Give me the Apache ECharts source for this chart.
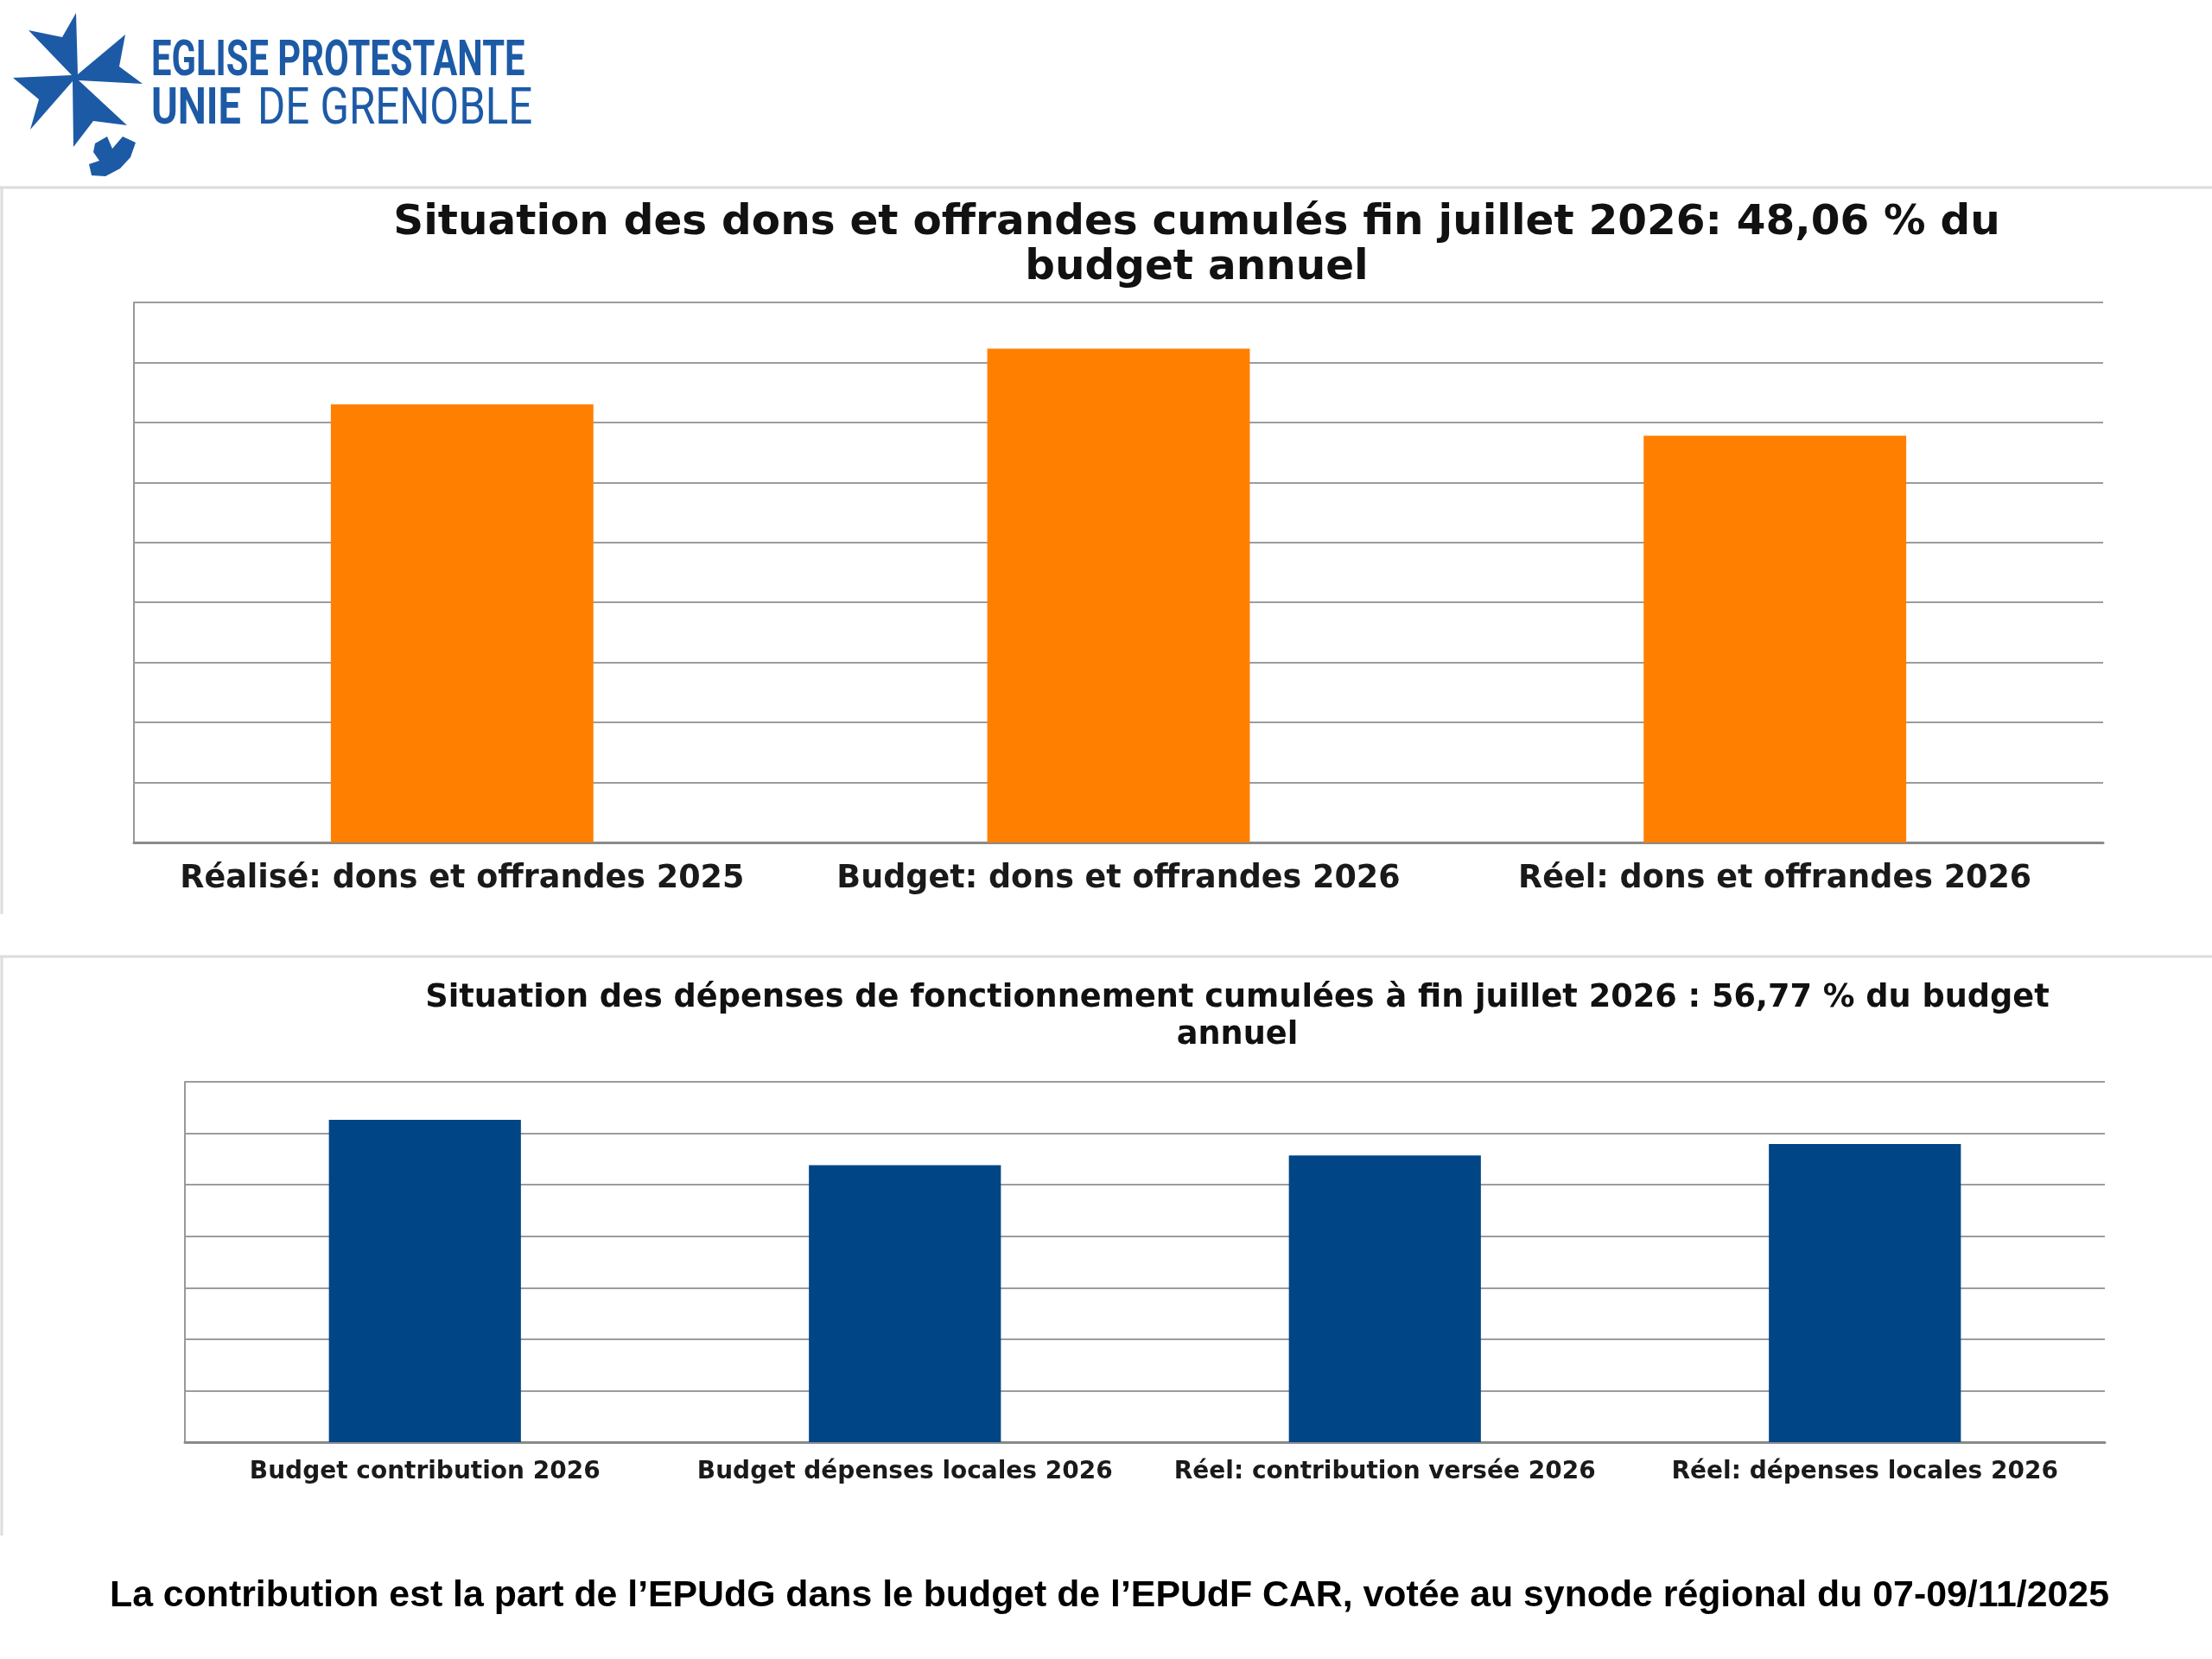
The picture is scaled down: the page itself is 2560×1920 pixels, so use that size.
<!DOCTYPE html>
<html>
<head>
<meta charset="utf-8">
<title>EPUdG - dons et dépenses fin juillet 2026</title>
<script src="https://cdn.jsdelivr.net/npm/echarts@6/dist/echarts.min.js"></script>
<style>
	html, body { margin: 0; padding: 0; background: #fff; }
	#main { width: 2560px; height: 1920px; }
</style>
</head>
<body>
<div id="main"></div>
<script>
// dons et offrandes (échelle relative, l'axe n'a pas de graduations lisibles)
var donsCategories = ['Réalisé: dons et offrandes 2025', 'Budget: dons et offrandes 2026', 'Réel: dons et offrandes 2026'];
var donsValues = [7.30, 8.23, 6.78];
var donsAxisMax = 9;

// dépenses de fonctionnement
var depCategories = ['Budget contribution 2026', 'Budget dépenses locales 2026', 'Réel: contribution versée 2026', 'Réel: dépenses locales 2026'];
var depValues = [6.26, 5.38, 5.57, 5.79];
var depAxisMax = 7;

var titleDons = 'Situation des dons et offrandes cumulés fin juillet 2026: 48,06 % du\nbudget annuel';
var titleDep = 'Situation des dépenses de fonctionnement cumulées à fin juillet 2026 : 56,77 % du budget\nannuel';
var footer = 'La contribution est la part de l’EPUdG dans le budget de l’EPUdF CAR, votée au synode régional du 07-09/11/2025';

var logoBlue = '#1d5aa6';
var gridColor = '#9c9c9c';
var labelFont = '"DejaVu Sans", Verdana, sans-serif';

function yAxisOpt(gridIndex, max) {
	return {
		type: 'value',
		gridIndex: gridIndex,
		min: 0,
		max: max,
		interval: 1,
		axisLine: { show: true, lineStyle: { color: '#999', width: 2 } },
		axisTick: { show: false },
		axisLabel: { show: false },
		splitLine: { show: true, lineStyle: { color: gridColor, width: 2 } }
	};
}

function xAxisOpt(gridIndex, data, fontSize, margin) {
	return {
		type: 'category',
		gridIndex: gridIndex,
		data: data,
		axisLine: { lineStyle: { color: '#8a8a8a', width: 3 } },
		axisTick: { show: false },
		axisLabel: {
			interval: 0,
			margin: margin,
			color: '#1a1a1a',
			fontFamily: labelFont,
			fontWeight: 'bold',
			fontSize: fontSize
		}
	};
}

var ec = echarts.init(document.getElementById('main'));
ec.setOption({
	animation: false,
	backgroundColor: '#fff',
	title: [{
		text: titleDons,
		left: 1385,
		top: 232,
		padding: 0,
		textAlign: 'center',
		textStyle: { fontFamily: labelFont, fontWeight: 'bold', fontSize: 48.5, lineHeight: 52, color: '#111' }
	}, {
		text: titleDep,
		left: 1432,
		top: 1134,
		padding: 0,
		textAlign: 'center',
		textStyle: { fontFamily: labelFont, fontWeight: 'bold', fontSize: 36.7, lineHeight: 43, color: '#111' }
	}],
	grid: [{
		left: 155, right: 126, top: 350, bottom: 945
	}, {
		left: 214, right: 124, top: 1252, bottom: 251
	}],
	xAxis: [
		xAxisOpt(0, donsCategories, 36.5, 24),
		xAxisOpt(1, depCategories, 28, 21)
	],
	yAxis: [
		yAxisOpt(0, donsAxisMax),
		yAxisOpt(1, depAxisMax)
	],
	series: [{
		name: 'Dons et offrandes',
		type: 'bar',
		xAxisIndex: 0,
		yAxisIndex: 0,
		barWidth: '40%',
		itemStyle: { color: '#ff8000' },
		data: donsValues
	}, {
		name: 'Dépenses de fonctionnement',
		type: 'bar',
		xAxisIndex: 1,
		yAxisIndex: 1,
		barWidth: '40%',
		itemStyle: { color: '#004586' },
		data: depValues
	}],
	graphic: [
		// cadres des deux graphiques
		{ type: 'line', silent: true, shape: { x1: 0, y1: 217, x2: 2560, y2: 217 }, style: { stroke: '#dcdcdc', lineWidth: 3 } },
		{ type: 'line', silent: true, shape: { x1: 2, y1: 217, x2: 2, y2: 1058 }, style: { stroke: '#dcdcdc', lineWidth: 3 } },
		{ type: 'line', silent: true, shape: { x1: 0, y1: 1107, x2: 2560, y2: 1107 }, style: { stroke: '#dcdcdc', lineWidth: 3 } },
		{ type: 'line', silent: true, shape: { x1: 2, y1: 1107, x2: 2, y2: 1777 }, style: { stroke: '#dcdcdc', lineWidth: 3 } },
		// logo : croix
		{
			type: 'polygon',
			silent: true,
			shape: {
				points: [[33, 35], [72, 43], [88, 15], [90, 86], [145, 40], [138, 77], [165, 97], [91, 93],
					[147, 145], [108, 140], [85, 170], [84, 94], [35, 150], [45, 115], [15, 90], [83, 87]]
			},
			style: { fill: logoBlue }
		},
		// logo : colombe
		{
			type: 'polygon',
			silent: true,
			shape: {
				points: [[110, 166], [124, 158], [130, 172], [142, 158], [157, 165], [151, 182], [139, 195],
					[122, 204], [106, 203], [103, 190], [115, 186], [108, 176]]
			},
			style: { fill: logoBlue }
		},
		{
			type: 'text',
			silent: true,
			x: 175,
			y: 72,
			scaleX: 0.72,
			style: {
				x: 0, y: 0,
				text: 'EGLISE PROTESTANTE',
				fill: logoBlue,
				font: 'bold 58px Roboto, "Liberation Sans", sans-serif',
				verticalAlign: 'middle'
			}
		},
		{
			type: 'text',
			silent: true,
			x: 175,
			y: 128,
			scaleX: 0.78,
			style: {
				x: 0, y: 0,
				text: 'UNIE',
				fill: logoBlue,
				font: 'bold 60px Roboto, "Liberation Sans", sans-serif',
				verticalAlign: 'middle'
			}
		},
		{
			type: 'text',
			silent: true,
			x: 298,
			y: 128,
			scaleX: 0.82,
			style: {
				x: 0, y: 0,
				text: 'DE GRENOBLE',
				fill: logoBlue,
				font: '60px Roboto, "Liberation Sans", sans-serif',
				verticalAlign: 'middle'
			}
		},
		// note de bas de page
		{
			type: 'text',
			silent: true,
			x: 1284,
			y: 1847,
			style: {
				text: footer,
				fill: '#000',
				font: 'bold 42.8px "Liberation Sans", Arial, sans-serif',
				textAlign: 'center',
				verticalAlign: 'middle'
			}
		}
	]
});
</script>
</body>
</html>
